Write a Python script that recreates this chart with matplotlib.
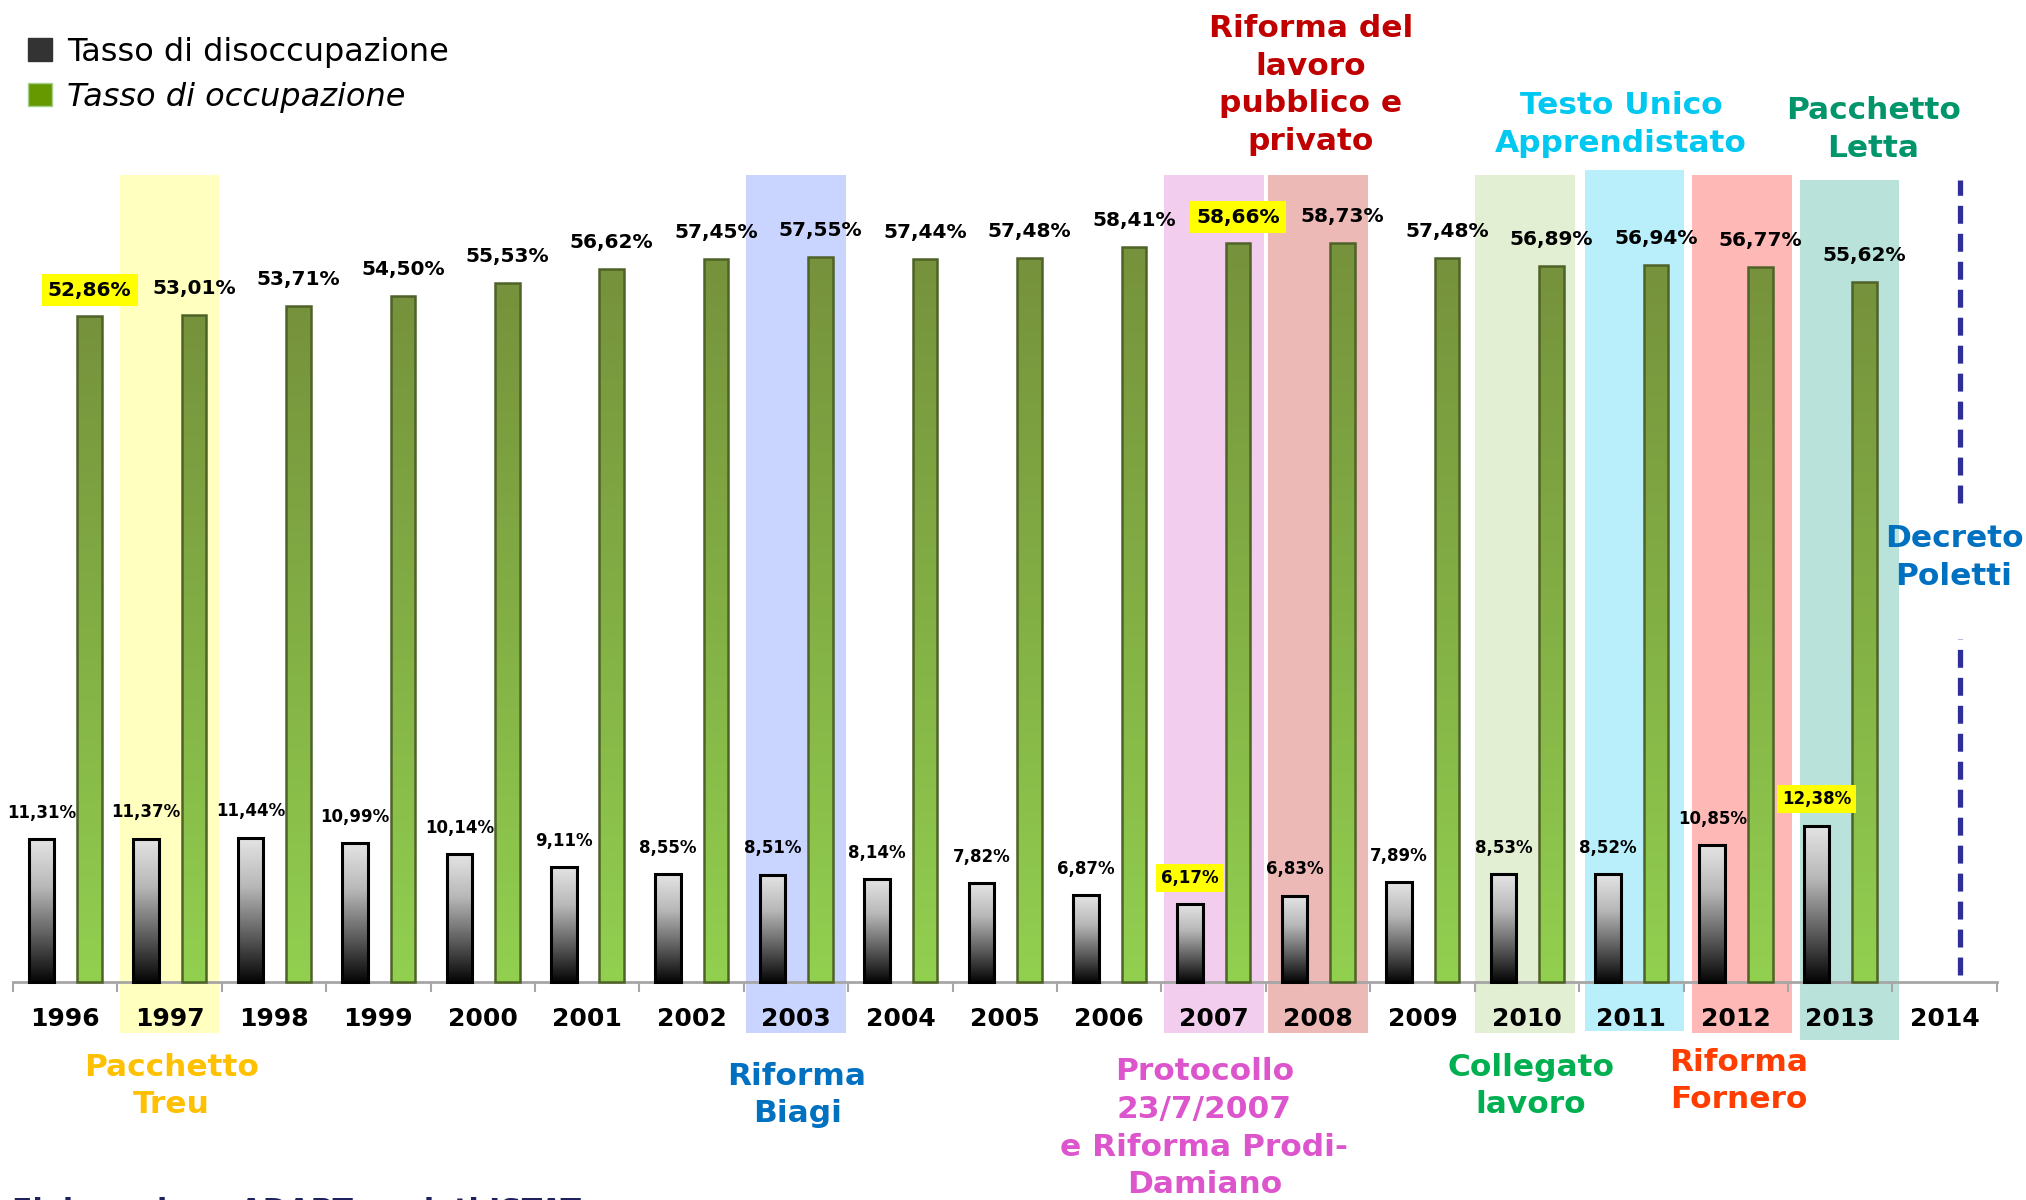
import numpy as np
import matplotlib
matplotlib.use('Agg')
import matplotlib.pyplot as plt
from matplotlib.patches import Patch
from matplotlib.colors import LinearSegmentedColormap

# ---------------- data ----------------
years = [1996, 1997, 1998, 1999, 2000, 2001, 2002, 2003, 2004, 2005,
         2006, 2007, 2008, 2009, 2010, 2011, 2012, 2013, 2014]
unemployment = [11.31, 11.37, 11.44, 10.99, 10.14, 9.11, 8.55, 8.51, 8.14, 7.82,
                6.87, 6.17, 6.83, 7.89, 8.53, 8.52, 10.85, 12.38]
employment = [52.86, 53.01, 53.71, 54.50, 55.53, 56.62, 57.45, 57.55, 57.44, 57.48,
              58.41, 58.66, 58.73, 57.48, 56.89, 56.94, 56.77, 55.62]
highlight_unemp = [2007, 2013]
highlight_emp = [1996, 2007]

reform_years = [1997, 2003, 2007, 2008, 2010, 2011, 2012, 2013]
reform_colors = ['#FFFFBF', '#C9D5FF', '#F2CDEE', '#ECB9B6',
                 '#E2EFD3', '#B8EFFB', '#FEB9B6', '#B9E3DA']

reform_labels = ['Pacchetto\nTreu', 'Riforma\nBiagi',
                 'Protocollo\n23/7/2007\ne Riforma Prodi-\nDamiano',
                 'Riforma del\nlavoro\npubblico e\nprivato',
                 'Collegato\nlavoro', 'Testo Unico\nApprendistato',
                 'Riforma\nFornero', 'Pacchetto\nLetta', 'Decreto\nPoletti']
reform_label_colors = ['#FFC000', '#0070C0', '#DD55CC', '#C00000',
                       '#00B050', '#00C8F0', '#FF3D00', '#00956A', '#0070C0']

legend_labels = ['Tasso di disoccupazione', 'Tasso di occupazione']
source_text = 'Elaborazione ADAPT su dati ISTAT'

# ---------------- layout (not data) ----------------
label_pos = [(1.02, -8.3), (7.01, -9.0), (10.91, -11.65), (11.93, 71.25),
             (14.04, -8.3), (14.9, 68.1), (16.03, -7.9), (17.32, 67.7), (18.09, 33.7)]
shade_dx = [0.0, 0.0, 0.0, 0.0, -0.02, 0.03, 0.06, 0.09]
shade_bottom = [-4.1, -4.1, -4.1, -4.1, -4.1, -3.9, -4.1, -4.6]
shade_top = [64.1, 64.1, 64.1, 64.1, 64.1, 64.5, 64.1, 63.7]


def fmt(v):
    return f"{v:.2f}".replace('.', ',') + '%'


fig = plt.figure(figsize=(20.26, 12), dpi=100)
fig.patch.set_facecolor('white')
ax = fig.add_axes([0, 0, 1, 1])
ax.set_facecolor('none')

x = np.arange(len(years))
idx = {y: i for i, y in enumerate(years)}

# reform shading
sx = [idx[y] + d for y, d in zip(reform_years, shade_dx)]
sh = [t - b for t, b in zip(shade_top, shade_bottom)]
ax.bar(sx, sh, bottom=shade_bottom, width=0.955, color=reform_colors, zorder=0, linewidth=0)

# bars
xu = x[:len(unemployment)] - 0.225
xe = x[:len(employment)] + 0.235
bu = ax.bar(xu, unemployment, width=0.245, facecolor='none', edgecolor='black',
            linewidth=2.2, zorder=3)
be = ax.bar(xe, employment, width=0.235, facecolor='none', edgecolor='#4F6228',
            linewidth=1.8, zorder=3)

cmap_black = LinearSegmentedColormap.from_list('bk', ['#E4E4E4', '#B8B8B8', '#606060', '#050505'])
cmap_green = LinearSegmentedColormap.from_list('gr', ['#76923C', '#83B045', '#92D050'])
grad = np.linspace(0, 1, 256).reshape(-1, 1)
for bars, cm in ((bu, cmap_black), (be, cmap_green)):
    for p in bars.patches:
        x0, y0, w, h = p.get_x(), p.get_y(), p.get_width(), p.get_height()
        im = ax.imshow(grad, extent=[x0, x0 + w, y0, y0 + h], aspect='auto', cmap=cm,
                       origin='upper', zorder=2.8, interpolation='bilinear')
        im.set_clip_path(p)

# value labels
hl_box = dict(boxstyle='square,pad=0.3', fc='#FFFF00', ec='none')
for xi, v, yr in zip(xu, unemployment, years):
    ax.annotate(fmt(v), (xi, v), xytext=(0, 19), textcoords='offset points',
                ha='center', va='center', fontsize=12, fontweight='bold',
                bbox=hl_box if yr in highlight_unemp else None, zorder=5)
for xi, v, yr in zip(xe, employment, years):
    ax.annotate(fmt(v), (xi, v), xytext=(0, 19), textcoords='offset points',
                ha='center', va='center', fontsize=14.5, fontweight='bold',
                bbox=hl_box if yr in highlight_emp else None, zorder=5)

# axis
ax.set_xlim(-0.624, 18.78)
ax.set_ylim(-17.35, 78.0)
for s in ['left', 'right', 'top']:
    ax.spines[s].set_visible(False)
ax.spines['bottom'].set_position(('data', 0))
ax.spines['bottom'].set_bounds(-0.5, 18.5)
ax.spines['bottom'].set_color('#A6A6A6')
ax.spines['bottom'].set_linewidth(2)
ax.set_xticks(x)
ax.set_xticklabels([str(y) for y in years], fontsize=18, fontweight='bold')
ax.tick_params(axis='x', which='major', length=0, pad=18.5)
ax.set_xticks(np.arange(-0.5, 19, 1.0), minor=True)
ax.tick_params(axis='x', which='minor', length=7.2, width=1.5, color='#A6A6A6', direction='out')
ax.set_yticks([])

# dashed line for 2014
ax.vlines([18.15, 18.15], [0.5, 38.0], [27.2, 63.7], colors='#2E2E9A', linewidth=3.8,
          linestyles=[(0, (3.4, 1.9))], zorder=4)

# reform annotations
for txt, c, (px, py) in zip(reform_labels, reform_label_colors, label_pos):
    ax.text(px, py, txt, ha='center', va='center', fontsize=22.5, fontweight='bold',
            color=c, linespacing=1.38, zorder=6)

# legend
handles = [Patch(facecolor='#333333', edgecolor='#333333'),
           Patch(facecolor='#669900', edgecolor='#A8D08D')]
leg = fig.legend(handles, legend_labels, loc='upper left',
                 bbox_to_anchor=(28 / 2026, 1 - 36.5 / 1200), frameon=False, fontsize=23,
                 handlelength=0.75, handleheight=0.75, handletextpad=0.47,
                 labelspacing=0.44, borderpad=0, borderaxespad=0)
leg.get_texts()[1].set_style('italic')

# source (cut at the bottom edge, as in the reference)
fig.text(12 / 2026, -0.017, source_text, ha='left', va='baseline', fontsize=21.5,
         fontweight='bold', color='#1F2060')

fig.savefig('out.png', dpi=100)
